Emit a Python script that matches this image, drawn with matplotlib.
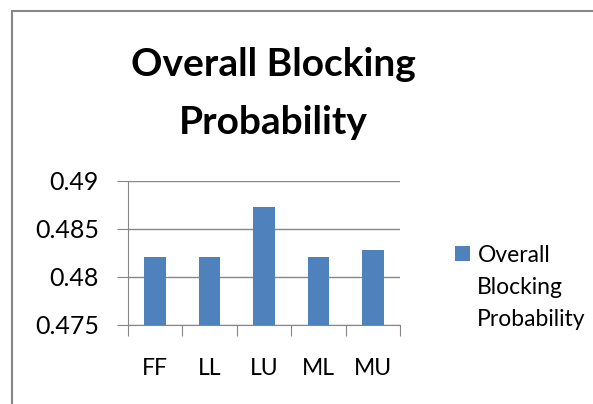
import matplotlib.pyplot as plt
from matplotlib.patches import Rectangle

categories = ['FF', 'LL', 'LU', 'ML', 'MU']
values = [0.48212, 0.48212, 0.48726, 0.48212, 0.48281]
yticks = [0.475, 0.48, 0.485, 0.49]
ytick_labels = ['0.475', '0.48', '0.485', '0.49']
series_name = 'Overall Blocking Probability'

plt.rcParams['font.family'] = ['Lato', 'DejaVu Sans']

fig = plt.figure(figsize=(5.93, 4.04), dpi=100)
fig.patches.append(Rectangle((12/593, -0.1), 1.0, 1 - 11/404 + 0.1, transform=fig.transFigure,
                             fill=False, edgecolor='#868686', linewidth=1.5))

ax = fig.add_axes([128/593, 1 - 325/404, 272/593, 144/404])
x = range(len(categories))
ax.bar(x, [v - yticks[0] for v in values], bottom=yticks[0], width=0.4,
       color='#4f81bd', label='Overall', zorder=3)
ax.set_xlim(-0.5, len(categories) - 0.5)
ax.set_ylim(yticks[0], yticks[-1])
ax.set_yticks(yticks)
ax.set_yticklabels(ytick_labels, fontsize=18)
ax.set_xticks([i - 0.5 for i in range(len(categories) + 1)])
ax.set_xticklabels([])
ax.set_xticks(list(x), minor=True)
ax.set_xticklabels(categories, minor=True, fontsize=16.5)
ax.tick_params(axis='x', which='minor', length=0, pad=24)
ax.tick_params(axis='x', which='major', length=8, color='#868686')
ax.tick_params(axis='y', length=8, color='#868686', pad=13)
ax.grid(axis='y', color='#868686', linewidth=1, zorder=0)
for s in ['top', 'right']:
    ax.spines[s].set_visible(False)
for s in ['left', 'bottom']:
    ax.spines[s].set_color('#868686')

title_lines = series_name.rsplit(' ', 1)
fig.text(273/593, 1 - 64/404, title_lines[0], ha='center', va='center',
         fontsize=28, fontweight='bold')
fig.text(273/593, 1 - 122/404, title_lines[1], ha='center', va='center',
         fontsize=28, fontweight='bold')

ax.legend(loc='center left', bbox_to_anchor=(455/593, 1 - 255/404), bbox_transform=fig.transFigure,
          frameon=False, fontsize=16.5, handlelength=0.65, handleheight=0.65, handletextpad=0.35,
          borderaxespad=0, borderpad=0)
fig.text(477/593, 1 - 288/404, 'Blocking', ha='left', va='center', fontsize=16.5)
fig.text(477/593, 1 - 320/404, 'Probability', ha='left', va='center', fontsize=16.5)

fig.savefig('out.png', dpi=100)
